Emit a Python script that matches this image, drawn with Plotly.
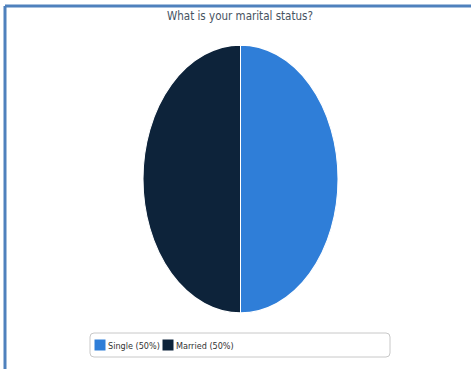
import plotly.graph_objects as go

# Survey answers
categories = ["Single", "Married"]
counts = [1, 1]
colors = ["#2f7ed8", "#0d233a"]

total = sum(counts)
legend_labels = [f"{c} ({v / total * 100:.0f}%)" for c, v in zip(categories, counts)]

W, H = 471, 369
NARROW = "DejaVu Sans Condensed, Liberation Sans Narrow, sans-serif"

fig = go.Figure(
    go.Pie(
        labels=legend_labels,
        values=counts,
        marker=dict(colors=colors, line=dict(color="#ffffff", width=1)),
        sort=False,
        direction="clockwise",
        rotation=0,
        textinfo="none",
        hoverinfo="label+value",
        domain=dict(x=[143 / W, 338 / W], y=[80 / H, 300 / H]),
    )
)

# rounded legend frame
def rounded_rect(x0, y0, x1, y1, r):
    rx, ry = r / W, r / H
    X0, X1 = x0 / W, x1 / W
    Y0, Y1 = 1 - y1 / H, 1 - y0 / H
    return (
        f"M{X0 + rx},{Y0} L{X1 - rx},{Y0} Q{X1},{Y0} {X1},{Y0 + ry} "
        f"L{X1},{Y1 - ry} Q{X1},{Y1} {X1 - rx},{Y1} L{X0 + rx},{Y1} "
        f"Q{X0},{Y1} {X0},{Y1 - ry} L{X0},{Y0 + ry} Q{X0},{Y0} {X0 + rx},{Y0} Z"
    )

shapes = [
    dict(type="path", xref="paper", yref="paper",
         path=rounded_rect(90, 333, 390, 357, 4),
         line=dict(color="#c8c8c8", width=1), fillcolor="rgba(0,0,0,0)"),
    # page frame (top and left edges)
    dict(type="line", xref="paper", yref="paper", x0=5 / W, x1=1, y0=1 - 6 / H, y1=1 - 6 / H,
         line=dict(color="#4f81bd", width=3)),
    dict(type="line", xref="paper", yref="paper", x0=5 / W, x1=5 / W, y0=0, y1=1 - 6 / H,
         line=dict(color="#4f81bd", width=3)),
]

fig.update_layout(
    width=W,
    height=H,
    margin=dict(l=0, r=0, t=0, b=0),
    paper_bgcolor="#ffffff",
    plot_bgcolor="#ffffff",
    title=dict(
        text="What is your marital status?",
        x=240 / W, xanchor="center",
        y=1 - 16 / H, yanchor="middle",
        font=dict(family=NARROW, size=11.5, color="#46535f"),
    ),
    showlegend=True,
    legend=dict(
        orientation="h",
        x=80 / W, xanchor="left",
        y=24 / H, yanchor="middle",
        entrywidth=23, entrywidthmode="pixels",
        font=dict(family=NARROW, size=9, color="#333333"),
        bgcolor="rgba(0,0,0,0)",
        borderwidth=0,
    ),
    shapes=shapes,
)

# the pie is stretched vertically into an ellipse; legend labels sit close to
# their swatches and the legend is not clipped to its compact entry widths
post = """
var g = document.querySelector('.pielayer');
if (g) {
  g.style.transformBox = 'fill-box';
  g.style.transformOrigin = 'center';
  g.style.transform = 'scaleY(1.374)';
}
document.querySelectorAll('.legend .legendtext').forEach(function (t) {
  t.setAttribute('transform', 'translate(-12,0)');
});
document.querySelectorAll('.legend, .legend .scrollbox').forEach(function (s) {
  s.removeAttribute('clip-path');
});
document.querySelectorAll('clipPath[id*="legend"] rect').forEach(function (r) {
  r.setAttribute('width', 400);
});
"""

fig.write_html("out.html", post_script=post)
